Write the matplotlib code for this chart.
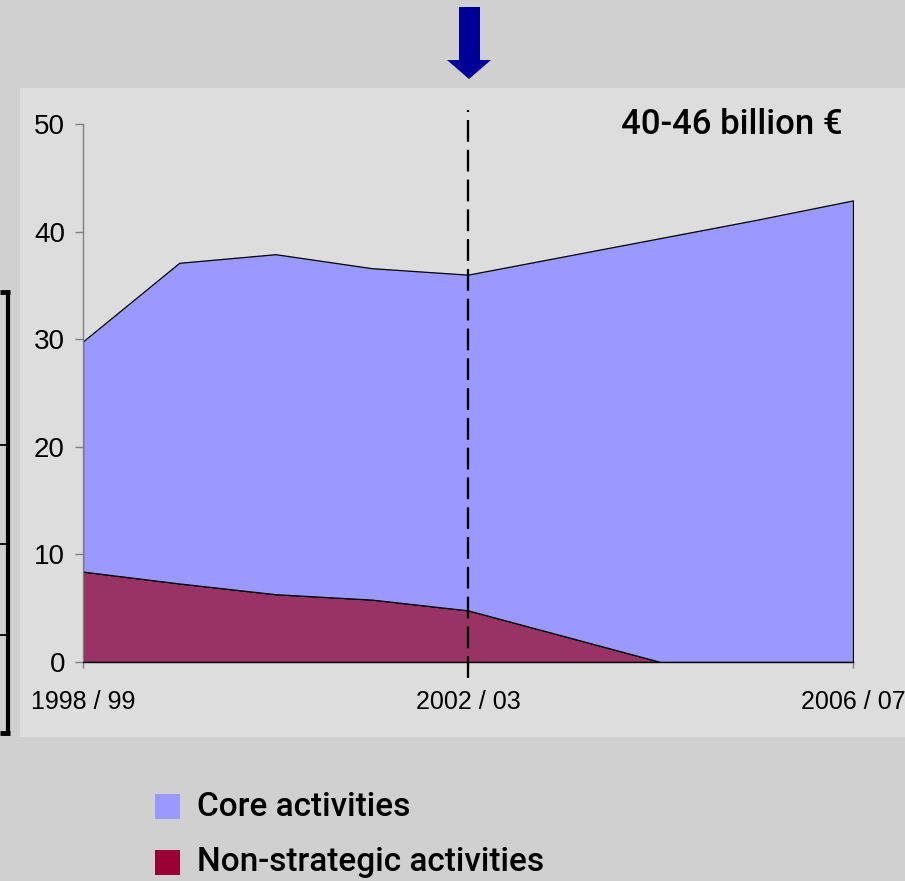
import matplotlib
import matplotlib.pyplot as plt
import numpy as np
from matplotlib.patches import Rectangle, Polygon
from matplotlib.lines import Line2D

matplotlib.use("Agg")

# data (billion EUR, stacked)
years = ["1998 / 99", "1999 / 00", "2000 / 01", "2001 / 02", "2002 / 03",
         "2003 / 04", "2004 / 05", "2005 / 06", "2006 / 07"]
non_strategic = [8.4, 7.3, 6.3, 5.8, 4.8, 2.4, 0.0, 0.0, 0.0]
total = [29.8, 37.1, 37.9, 36.6, 36.0, 37.7, 39.4, 41.1, 42.9]
core = [t - n for t, n in zip(total, non_strategic)]
shown_ticks = ["1998 / 99", "2002 / 03", "2006 / 07"]
marker_year = "2002 / 03"
y_ticks = [0, 10, 20, 30, 40, 50]
target_label = "40-46 billion €"
legend_labels = ["Core activities", "Non-strategic activities"]

CORE_COLOR = "#9999ff"
NON_COLOR = "#993366"
NON_LEGEND = "#990033"
BG = "#d0d0d0"
PANEL = "#dddddd"

W, H = 905, 881
TICK_FONT = ["Liberation Sans Narrow", "Liberation Sans", "DejaVu Sans"]
TEXT_FONT = ["Roboto", "DejaVu Sans"]


def fx(px):
    return px / W


def fy(py):
    return 1 - py / H


fig = plt.figure(figsize=(W / 100, H / 100), dpi=100, facecolor=BG)

# lighter chart panel, behind the axes
fig.patches.append(Rectangle((fx(20), fy(737)), fx(885), 649 / H, transform=fig.transFigure,
                             facecolor=PANEL, edgecolor="none", zorder=-5))

# cut-off box on the left edge
box_kw = dict(transform=fig.transFigure, color="black", solid_capstyle="butt", zorder=-4)
fig.lines.append(Line2D([fx(8), fx(8)], [fy(290), fy(735)], lw=3.0, **box_kw))
fig.lines.append(Line2D([0, fx(10)], [fy(292), fy(292)], lw=3.5, **box_kw))
fig.lines.append(Line2D([0, fx(10)], [fy(733), fy(733)], lw=3.5, **box_kw))
for py in [445, 544, 635]:
    fig.lines.append(Line2D([0, fx(6)], [fy(py), fy(py)], lw=1.3, **box_kw))

ax = fig.add_axes([fx(83), fy(662), 770 / W, 538 / H])
ax.set_facecolor("none")

x = np.arange(len(years))
ax.stackplot(x, non_strategic, core, colors=[NON_COLOR, CORE_COLOR],
             edgecolor="black", linewidth=0.9, zorder=2)

ax.set_xlim(0, len(years) - 1)
ax.set_ylim(0, 50)
ax.set_yticks(y_ticks)
ax.set_yticklabels([str(v) for v in y_ticks], family=TICK_FONT, fontsize=20)
tick_pos = [years.index(t) for t in shown_ticks]
ax.set_xticks(tick_pos)
ax.set_xticklabels(shown_ticks, family=TICK_FONT, fontsize=18)

for s in ["top", "right"]:
    ax.spines[s].set_visible(False)
ax.spines["left"].set_color("#808080")
ax.spines["left"].set_linewidth(1.0)
ax.spines["bottom"].set_color("black")
ax.spines["bottom"].set_linewidth(1.0)
ax.spines["bottom"].set_zorder(3)
ax.tick_params(axis="y", length=6, width=1.0, color="#808080", pad=7, labelcolor="black")
ax.tick_params(axis="x", length=4.5, width=1.0, color="#808080", pad=16, labelcolor="black")

# dashed marker at 2002/03
mx = years.index(marker_year)
ax.plot([mx, mx], [-1.45, 51.3], color="black", lw=1.65, dashes=(9.5, 3.5),
        clip_on=False, zorder=4)

ax.text(0.987, 50.0, target_label, transform=ax.get_yaxis_transform(),
        ha="right", va="center", family=TEXT_FONT, fontsize=25, weight="medium", color="black")

# arrow pointing at the marker
arrow = [(459, 7), (480, 7), (480, 60), (491, 60), (469, 79), (447, 60), (459, 60)]
fig.patches.append(Polygon([(fx(a), fy(b)) for a, b in arrow], closed=True,
                           transform=fig.transFigure, facecolor="#000099", edgecolor="none"))

# legend
for i, (label, col) in enumerate(zip(legend_labels, [CORE_COLOR, NON_LEGEND])):
    top = 794 + i * 56
    fig.patches.append(Rectangle((fx(155), fy(top + 25)), fx(25), 25 / H,
                                 transform=fig.transFigure, facecolor=col, edgecolor="none"))
    fig.text(fx(197), fy(top + 12.5), label, ha="left", va="center",
             family=TEXT_FONT, fontsize=24, weight="medium", color="black")

fig.savefig("out.png", dpi=100, facecolor=BG)
